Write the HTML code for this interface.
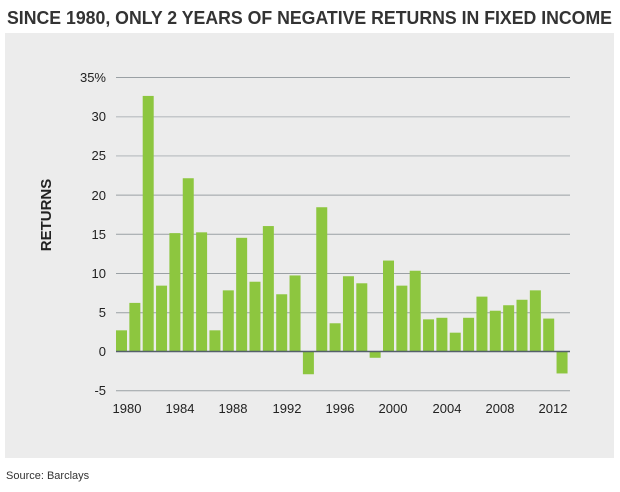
<!DOCTYPE html>
<html><head><meta charset="utf-8"><style>
body{margin:0;width:620px;height:487px;background:#fff;overflow:hidden;font-family:"Liberation Sans",sans-serif}
</style></head><body>
<svg width="620" height="487" xmlns="http://www.w3.org/2000/svg" font-family="Liberation Sans, sans-serif">
<text x="7" y="24" font-size="18" font-weight="bold" fill="#333" textLength="605" lengthAdjust="spacingAndGlyphs">SINCE 1980, ONLY 2 YEARS OF NEGATIVE RETURNS IN FIXED INCOME</text>
<rect x="5" y="33" width="609" height="425" fill="#ececec"/>
<g stroke="#9aa0a4" stroke-width="1">
<line x1="116" x2="570" y1="77.5" y2="77.5"/>
<line x1="116" x2="570" y1="116.7" y2="116.7" stroke="#c4c7ca" stroke-width="1.5"/>
<line x1="116" x2="570" y1="155.9" y2="155.9" stroke="#c4c7ca" stroke-width="1.5"/>
<line x1="116" x2="570" y1="195.1" y2="195.1"/>
<line x1="116" x2="570" y1="234.3" y2="234.3"/>
<line x1="116" x2="570" y1="273.5" y2="273.5"/>
<line x1="116" x2="570" y1="312.7" y2="312.7"/>
<line x1="116" x2="570" y1="390.7" y2="390.7"/>
</g>
<g id="bars" fill="#8dc63f"></g>
<line x1="116" x2="570" y1="351.5" y2="351.5" stroke="#55606a" stroke-width="1.5"/>
<g font-size="13" fill="#222" text-anchor="end">
<text x="106" y="82">35%</text><text x="106" y="121">30</text><text x="106" y="160">25</text><text x="106" y="200">20</text><text x="106" y="239">15</text><text x="106" y="278">10</text><text x="106" y="317">5</text><text x="106" y="356">0</text><text x="106" y="395">-5</text>
</g>
<g font-size="13" fill="#222" text-anchor="middle">
<text x="127" y="413">1980</text><text x="180" y="413">1984</text><text x="233" y="413">1988</text><text x="287" y="413">1992</text><text x="340" y="413">1996</text><text x="393" y="413">2000</text><text x="447" y="413">2004</text><text x="500" y="413">2008</text><text x="553" y="413">2012</text>
</g>
<text transform="translate(51,215) rotate(-90)" font-size="15" font-weight="bold" fill="#222" text-anchor="middle">RETURNS</text>
<text x="6" y="479" font-size="11" fill="#333">Source: Barclays</text>
</svg>
<script>
var v=[2.7,6.2,32.6,8.4,15.1,22.1,15.2,2.7,7.8,14.5,8.9,16.0,7.3,9.7,-2.9,18.4,3.6,9.6,8.7,-0.8,11.6,8.4,10.3,4.1,4.3,2.4,4.3,7.0,5.2,5.9,6.6,7.8,4.2,-2.8];
var g=document.getElementById('bars'),s='';
for(var i=0;i<v.length;i++){var x=116+i*13.35,h=Math.abs(v[i])*7.84,y=v[i]>=0?351.5-h:351.5;
s+='<rect x="'+x.toFixed(2)+'" y="'+y.toFixed(2)+'" width="11" height="'+h.toFixed(2)+'"/>';}
g.innerHTML=s;
</script>
</body></html>
